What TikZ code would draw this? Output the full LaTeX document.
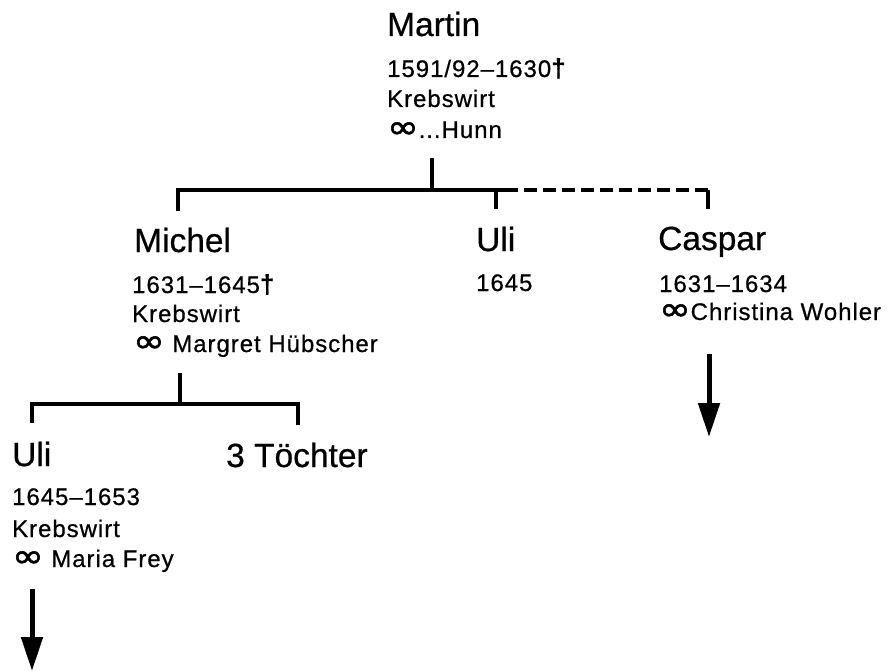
\documentclass[tikz,border=0pt]{standalone}
\usepackage{fontspec}
\setmainfont{Liberation Sans}
\newfontfamily\namef[FakeBold=0.6]{Liberation Sans}
\newfontfamily\smallf[LetterSpace=4,FakeBold=0.6]{Liberation Sans}
\newfontfamily\symf[FakeBold=1.6]{DejaVu Sans}
\newcommand{\marrsym}{\scalebox{1.4}[1.2]{\symf\fontsize{27}{27}\selectfont ∞}}
\newcommand{\deathsym}{{\bfseries\fontsize{26}{26}\selectfont †}}
\usetikzlibrary{arrows.meta}
\tikzset{
  namet/.style={anchor=base west, inner sep=0pt, font=\namef\fontsize{33.5}{40}\selectfont},
  infot/.style={anchor=base west, inner sep=0pt, font=\smallf\fontsize{24}{28}\selectfont},
  treeline/.style={line width=3.2pt},
  dashline/.style={line width=3.2pt, dash pattern=on 13pt off 6pt},
  desc/.style={line width=5pt, -{Triangle[length=34pt,width=21pt]}}
}
\begin{document}
\begin{tikzpicture}[x=1pt,y=-1pt]
\useasboundingbox (0,0) rectangle (888,671);
% Martin
\node[namet] (martin) at (387,36) {Martin};
\node[infot] (martinA) at (387,77) {1591/92–1630\deathsym};
\node[infot] (martinB) at (387,107) {Krebswirt};
\node[infot] (martinC) at (387,138) {\marrsym...Hunn};
% children of Martin
\node[namet] (michel) at (134,252) {Michel};
\node[infot] (michelA) at (132,293) {1631–1645\deathsym};
\node[infot] (michelB) at (132,322) {Krebswirt};
\node[infot] (michelC) at (133,352) {\marrsym\ Margret Hübscher};
\node[namet] (uli) at (476,251) {Uli};
\node[infot] (uliA) at (476,291) {1645};
\node[namet] (caspar) at (658,250) {Caspar};
\node[infot] (casparA) at (659,292) {1631–1634};
\node[infot] (casparB) at (659,320) {\marrsym Christina Wohler};
% children of Michel
\node[namet] (uli2) at (12,466) {Uli};
\node[infot] (uli2A) at (12,505) {1645–1653};
\node[infot] (uli2B) at (12,537) {Krebswirt};
\node[infot] (uli2C) at (12,567) {\marrsym\ Maria Frey};
\node[namet] (toechter) at (226,467) {3 Töchter};
% coordinates
\coordinate (mStem) at (432,158);
\coordinate (mBar) at (432,190);
\coordinate (tMichel) at (178,211);
\coordinate (tUli) at (496,209);
\coordinate (bUli) at (496,190);
\coordinate (solidEnd) at (505,190);
\coordinate (tCaspar) at (708,209);
\coordinate (bCaspar) at (708,190);
\coordinate (miStem) at (180,373);
\coordinate (miBar) at (180,404);
\coordinate (tUli2) at (32,423);
\coordinate (tToechter) at (298,425);
\coordinate (aUliS) at (32,589);
\coordinate (aUliE) at (32,671);
\coordinate (aCasS) at (709,354);
\coordinate (aCasE) at (709,437);
% lines
\draw[treeline] (mStem) -- (mBar);
\draw[treeline] (tMichel) |- (solidEnd);
\draw[treeline] (bUli) -- (tUli);
\draw[dashline] (solidEnd) -- (bCaspar);
\draw[treeline] (bCaspar) -- (tCaspar);
\draw[treeline] (miStem) -- (miBar);
\draw[treeline] (tUli2) |- (miBar) -| (tToechter);
\draw[desc] (aUliS) -- (aUliE);
\draw[desc] (aCasS) -- (aCasE);
\end{tikzpicture}
\end{document}
